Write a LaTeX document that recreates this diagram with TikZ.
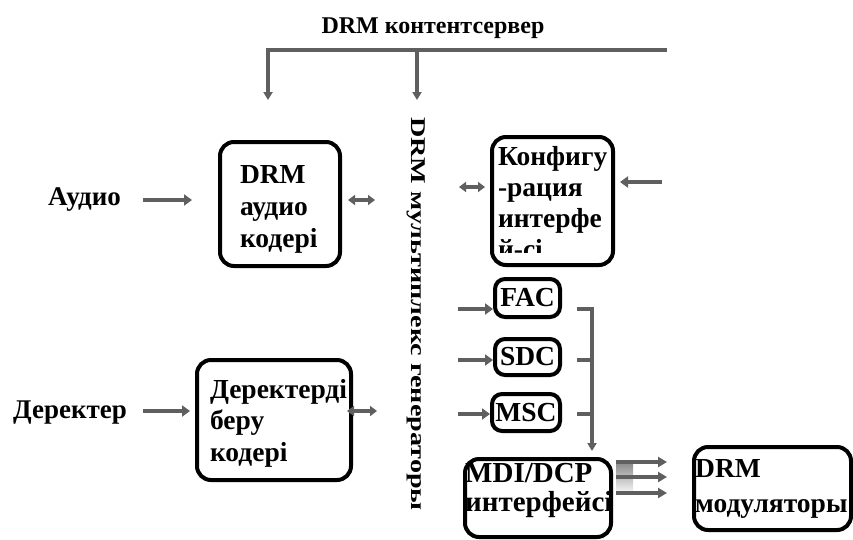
\documentclass[tikz,border=0pt]{standalone}
\usepackage{fontspec}
\setmainfont{Liberation Serif}
\usetikzlibrary{arrows.meta}
\definecolor{arrgray}{RGB}{95,95,95}
\definecolor{shade}{RGB}{220,227,234}
\begin{document}
\begin{tikzpicture}[x=1pt,y=-1pt,
  box/.style={draw=black, line width=4pt, rounded corners=14pt, inner sep=0pt},
  smallbox/.style={box, rounded corners=10pt},
  btext/.style={font=\bfseries\fontsize{27.5}{32}\selectfont, align=left, inner sep=0pt},
  lbl/.style={font=\bfseries\fontsize{27}{30}\selectfont, inner sep=0pt, anchor=base west},
  bus/.style={draw=arrgray, line width=3.5pt},
  busarr/.style={bus, -{Triangle[length=8pt,width=9pt]}},
  arr/.style={draw=arrgray, line width=4.5pt, -{Triangle[length=8pt,width=11pt]}},
  darr/.style={draw=arrgray, line width=4pt, {Triangle[length=7pt,width=10pt]}-{Triangle[length=7pt,width=10pt]}},
  thinarr/.style={draw=arrgray, line width=4pt, -{Triangle[length=9pt,width=10pt]}},
]
\useasboundingbox (0,0) rectangle (853,539);
\fill[white] (0,0) rectangle (853,539);

% content server bus at the top
\node[font=\bfseries\fontsize{24}{28}\selectfont, inner sep=0pt, anchor=base] (srv) at (433,33) {DRM контентсервер};
\coordinate (busL) at (268,50);
\coordinate (busM) at (417,50);
\coordinate (busR) at (667,50);
\coordinate (audIn) at (268,100);
\coordinate (muxIn) at (417,100);
\draw[bus] ([xshift=-1.75pt]busL) -- (busR);
\draw[busarr] (busL) -- (audIn);
\draw[busarr] (busM) -- (muxIn);

% multiplex generator (vertical label)
\node[font=\bfseries\fontsize{21}{24}\selectfont, rotate=-90, inner sep=0pt] (mux) at (416,314)
  {\scalebox{1.34}[1]{DRM мультиплекс генераторы}};

% audio branch
\node[lbl] (audio) at (48,205) {Аудио};
\node[box, minimum width=120, minimum height=124] (aud) at (280,204) {};
\node[btext, text width=80] (audT) at (280,209) {DRM\\аудио\\кодері};
\coordinate (audA) at (143,200);
\coordinate (audB) at (192,200);
\draw[arr] (audA) -- (audB);
\coordinate (audC) at (348,200);
\coordinate (audD) at (375,200);
\draw[darr] (audC) -- (audD);

% data branch
\node[lbl] (data) at (13,418) {Деректер};
\node[box, minimum width=154, minimum height=120] (dat) at (274,420) {};
\node[btext, text width=128, font=\bfseries\fontsize{27.5}{31.5}\selectfont] (datT) at (274,423) {Деректерді\\беру\\кодері};
\coordinate (datA) at (143,411);
\coordinate (datB) at (190,411);
\draw[arr] (datA) -- (datB);
\coordinate (datC) at (347,411);
\coordinate (datD) at (377,411);
\draw[darr] (datC) -- (datD);

% interface configuration (last line cut by the frame)
\node[box, minimum width=121, minimum height=128] (cfg) at (552.5,201) {};
\begin{scope}
  \clip (492,137) rectangle (613,252);
  \node[btext, text width=109, font=\bfseries\fontsize{27.5}{31}\selectfont] (cfgT) at (552.5,203) {Конфигу\\-рация\\интерфе\\й-сі};
\end{scope}
\coordinate (cfgA) at (459,187);
\coordinate (cfgB) at (485,187);
\draw[darr] (cfgA) -- (cfgB);
\coordinate (cfgC) at (662,182);
\coordinate (cfgD) at (620,182);
\draw[arr] (cfgC) -- (cfgD);

% FAC / SDC / MSC
\node[smallbox, minimum width=65, minimum height=38, btext] (fac) at (527.5,298) {FAC};
\node[smallbox, minimum width=65, minimum height=36, btext] (sdc) at (527.5,357) {SDC};
\node[smallbox, minimum width=68, minimum height=37, btext] (msc) at (526,412.5) {MSC};
\coordinate (facIn) at (458,309);
\coordinate (sdcIn) at (458,360);
\coordinate (mscIn) at (458,414);
\draw[arr] (facIn) -- (fac.west |- facIn);
\draw[arr] (sdcIn) -- (sdc.west |- sdcIn);
\draw[arr] (mscIn) -- (msc.west |- mscIn);

% collecting bus into the MDI/DCP interface
\coordinate (c1) at (577,309);
\coordinate (c2) at (577,360);
\coordinate (c3) at (577,414);
\coordinate (v1) at (592,309);
\coordinate (v2) at (592,360);
\coordinate (v3) at (592,414);
\coordinate (vEnd) at (592,451);
\draw[bus, line width=4pt] (c1) -- ([xshift=2pt]v1);
\draw[bus, line width=4pt] (c2) -- (v2);
\draw[bus, line width=4pt] (c3) -- (v3);
\draw[busarr, line width=4pt] (v1) -- (vEnd);

% MDI/DCP interface
\node[box, minimum width=146, minimum height=78] (mdi) at (538,498) {};
\node[btext, anchor=west, font=\bfseries\fontsize{29}{29}\selectfont] (mdiT) at (465,490.5) {MDI/DCP\\интерфейсі};

% DRM modulators
\node[box, minimum width=157, minimum height=83] (mod) at (772.5,488.5) {};
\node[btext, anchor=west, font=\bfseries\fontsize{27.5}{35}\selectfont] (modT) at (695,488.5) {DRM\\модуляторы};

% three output lines
\fill[shade] (616,460) rectangle (633,495);
\coordinate (o1a) at (616,462);
\coordinate (o2a) at (616,477);
\coordinate (o3a) at (616,493);
\coordinate (o1b) at (667,462);
\coordinate (o2b) at (667,477);
\coordinate (o3b) at (667,493);
\draw[thinarr] (o1a) -- (o1b);
\draw[thinarr] (o2a) -- (o2b);
\draw[thinarr] (o3a) -- (o3b);
\end{tikzpicture}
\end{document}
